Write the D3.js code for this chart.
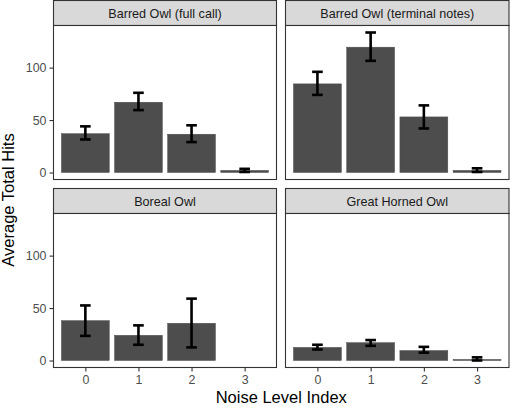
<!DOCTYPE html>
<html>
<head>
<meta charset="utf-8">
<script src="https://cdn.jsdelivr.net/npm/d3@7"></script>
<style>
html,body{margin:0;padding:0;background:#fff;}
svg{display:block;font-family:"Liberation Sans",Arial,sans-serif;}
</style>
</head>
<body>
<svg id="chart" width="510" height="406"></svg>
<script>
const categories = ["0", "1", "2", "3"];
const facets = ["Barred Owl (full call)", "Barred Owl (terminal notes)", "Boreal Owl", "Great Horned Owl"];
const meanFull = [37, 67, 36.5, 2];
const lowFull = [31.5, 59.5, 29, 0.5];
const highFull = [44, 76, 45, 3.5];
const meanTerm = [84.5, 119.5, 53, 2];
const lowTerm = [74, 106.5, 42, 0.5];
const highTerm = [96, 133.5, 64, 4];
const meanBoreal = [38, 24, 35.5, null];
const lowBoreal = [23.5, 15, 12.5, null];
const highBoreal = [52.5, 33.5, 59, null];
const meanGHO = [12.5, 17, 9.5, 1];
const lowGHO = [10.5, 14, 7.5, 0];
const highGHO = [15, 19.5, 13, 3];
const yTicks = [0, 50, 100];
const xTitle = "Noise Level Index";
const yTitle = "Average Total Hits";

const series = [
  {mean: meanFull, low: lowFull, high: highFull},
  {mean: meanTerm, low: lowTerm, high: highTerm},
  {mean: meanBoreal, low: lowBoreal, high: highBoreal},
  {mean: meanGHO, low: lowGHO, high: highGHO}
];

const svg = d3.select("#chart");
const colsX = [[53.5, 276.5], [285.5, 509]];
const rowsY = [{strip: 0.5, top: 25.5, bottom: 179.5}, {strip: 188.5, top: 213.5, bottom: 367.5}];

// shared y domain with 5% expansion
let allVals = [0];
series.forEach(s => { s.low.concat(s.high).forEach(v => { if (v != null) allVals.push(v); }); });
const yMin = d3.min(allVals), yMax = d3.max(allVals);
const ext = (yMax - yMin) * 0.05;

facets.forEach((name, i) => {
  const col = i % 2, row = Math.floor(i / 2);
  const [x0, x1] = colsX[col];
  const r = rowsY[row];
  const s = series[i];
  const xc = d3.scalePoint().domain(categories).range([x0, x1]).padding(0.6);
  const step = xc.step();
  const y = d3.scaleLinear().domain([yMin - ext, yMax + ext]).range([r.bottom, r.top]);
  const g = svg.append("g");

  // strip
  g.append("rect").attr("x", x0).attr("y", r.strip).attr("width", x1 - x0).attr("height", r.top - r.strip)
    .attr("fill", "#D9D9D9").attr("stroke", "#333333").attr("stroke-width", 1.1);
  g.append("text").attr("x", (x0 + x1) / 2).attr("y", (r.strip + r.top) / 2).attr("dy", "0.36em")
    .attr("text-anchor", "middle").attr("font-size", 12.6).attr("fill", "#1A1A1A").text(name);

  // panel bg
  g.append("rect").attr("x", x0).attr("y", r.top).attr("width", x1 - x0).attr("height", r.bottom - r.top)
    .attr("fill", "#fff");

  const data = categories.map((c, k) => ({c, m: s.mean[k], lo: s.low[k], hi: s.high[k]})).filter(d => d.m != null);
  const bw = step * 0.9;
  g.selectAll(".bar").data(data).enter().append("rect")
    .attr("x", d => xc(d.c) - bw / 2).attr("width", bw)
    .attr("y", d => Math.min(y(d.m), y(0))).attr("height", d => Math.abs(y(0) - y(d.m)))
    .attr("fill", "#4D4D4D").attr("stroke", "#4D4D4D").attr("stroke-width", 0.5);
  const cw = step * 0.2;
  const eb = g.selectAll(".eb").data(data).enter().append("g");
  eb.append("line").attr("x1", d => xc(d.c)).attr("x2", d => xc(d.c)).attr("y1", d => y(d.lo)).attr("y2", d => y(d.hi))
    .attr("stroke", "#000").attr("stroke-width", 2.6);
  eb.append("line").attr("x1", d => xc(d.c) - cw / 2).attr("x2", d => xc(d.c) + cw / 2).attr("y1", d => y(d.lo)).attr("y2", d => y(d.lo))
    .attr("stroke", "#000").attr("stroke-width", 2.6);
  eb.append("line").attr("x1", d => xc(d.c) - cw / 2).attr("x2", d => xc(d.c) + cw / 2).attr("y1", d => y(d.hi)).attr("y2", d => y(d.hi))
    .attr("stroke", "#000").attr("stroke-width", 2.6);

  // border
  g.append("rect").attr("x", x0).attr("y", r.top).attr("width", x1 - x0).attr("height", r.bottom - r.top)
    .attr("fill", "none").attr("stroke", "#333333").attr("stroke-width", 1.1);

  if (col === 0) {
    const ay = g.append("g").attr("transform", `translate(${x0},0)`)
      .call(d3.axisLeft(y).tickValues(yTicks).tickSize(4).tickPadding(3).tickFormat(d3.format("d")));
    ay.select(".domain").remove();
    ay.selectAll("line").attr("stroke", "#333333").attr("stroke-width", 1.1);
    ay.selectAll("text").attr("font-size", 12.4).attr("fill", "#4D4D4D").attr("font-family", "Liberation Sans, Arial, sans-serif");
  }
  if (row === 1) {
    const ax = g.append("g").attr("transform", `translate(0,${r.bottom})`)
      .call(d3.axisBottom(xc).tickSize(4).tickPadding(4));
    ax.select(".domain").remove();
    ax.selectAll("line").attr("stroke", "#333333").attr("stroke-width", 1.1);
    ax.selectAll("text").attr("font-size", 12.4).attr("fill", "#4D4D4D").attr("font-family", "Liberation Sans, Arial, sans-serif");
  }
});

svg.append("text").attr("x", (53.5 + 509) / 2).attr("y", 403).attr("text-anchor", "middle")
  .attr("font-size", 16.5).attr("fill", "#000").text(xTitle);
svg.append("text").attr("transform", `translate(14,${200}) rotate(-90)`).attr("text-anchor", "middle")
  .attr("font-size", 16.5).attr("fill", "#000").text(yTitle);
</script>
</body>
</html>
